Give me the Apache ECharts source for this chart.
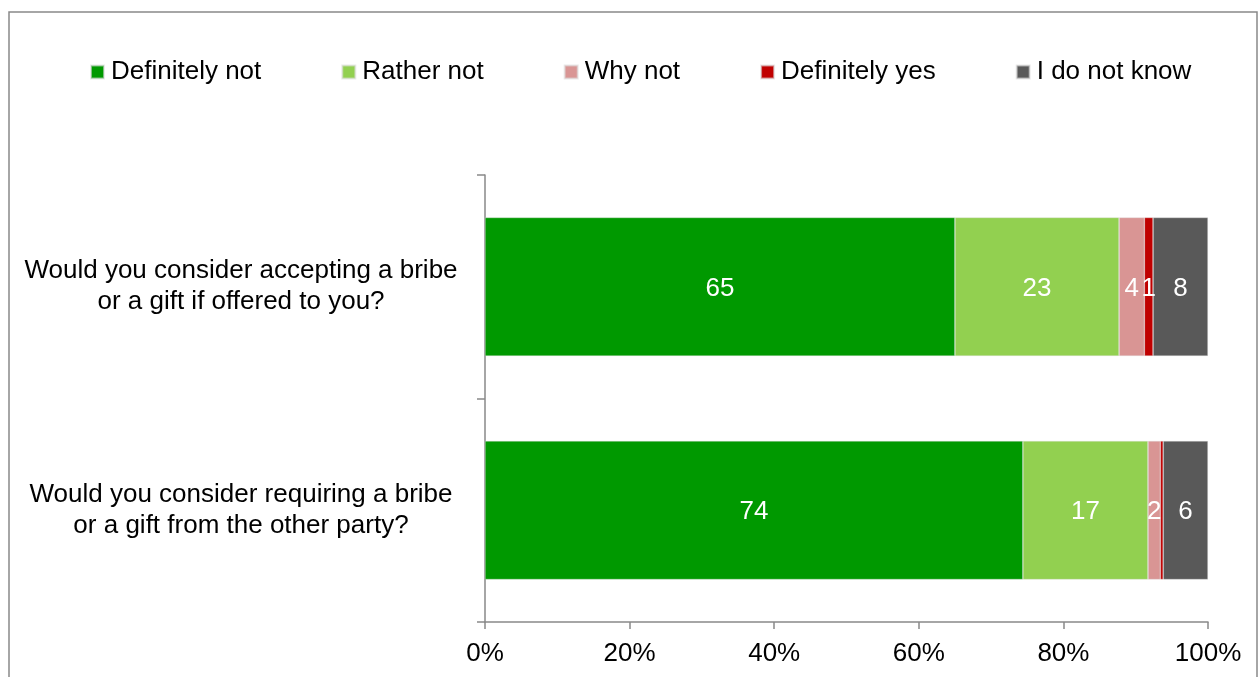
<!DOCTYPE html>
<html>
<head>
<meta charset="utf-8">
<title>Attitudes towards bribes and gifts</title>
<script src="https://cdn.jsdelivr.net/npm/echarts@6/dist/echarts.min.js"></script>
<style>
  html, body { margin: 0; padding: 0; background: #ffffff; }
  #chart { width: 1258px; height: 677px; }
</style>
</head>
<body>
<div id="chart"></div>
<script>
// Survey questions (rows, top to bottom)
const questions = [
  'Would you consider accepting a bribe\nor a gift if offered to you?',
  'Would you consider requiring a bribe\nor a gift from the other party?'
];

// Answer shares in percent, one value per question
const definitelyNot = [65.0, 74.4];
const ratherNot     = [22.7, 17.3];
const whyNot        = [3.5, 1.7];
const definitelyYes = [1.2, 0.4];
const doNotKnow     = [7.6, 6.2];

const answerNames  = ['Definitely not', 'Rather not', 'Why not', 'Definitely yes', 'I do not know'];
const answerValues = [definitelyNot, ratherNot, whyNot, definitelyYes, doNotKnow];
const answerColors = ['#009900', '#92D050', '#D99594', '#C00000', '#595959'];

// Percent axis ticks
const percentTicks = [0, 20, 40, 60, 80, 100];

const FONT = '"Liberation Sans", Arial, sans-serif';
const AXIS_GRAY = '#898989';

const chart = echarts.init(document.getElementById('chart'), null, { renderer: 'canvas' });

const series = answerNames.map((name, i) => ({
  name: name,
  type: 'bar',
  stack: 'total',
  barCategoryGap: '38%',
  data: answerValues[i],
  itemStyle: { color: answerColors[i], borderColor: 'rgba(220,220,220,0.6)', borderWidth: 0.6 },
  label: {
    show: true,
    position: 'inside',
    offset: [0, 2],
    color: '#ffffff',
    fontFamily: FONT,
    fontSize: 26,
    formatter: p => (p.value >= 0.5 ? String(Math.round(p.value)) : '')
  },
  emphasis: { disabled: true }
}));

chart.setOption({
  animation: false,
  backgroundColor: '#ffffff',
  textStyle: { fontFamily: FONT },
  graphic: [{
    type: 'rect',
    silent: true,
    shape: { x: 9, y: 12, width: 1248, height: 700 },
    style: { fill: 'none', stroke: AXIS_GRAY, lineWidth: 1.5 }
  }],
  legend: {
    left: 90,
    top: 58,
    padding: 0,
    itemGap: 80,
    itemWidth: 13,
    itemHeight: 13,
    icon: 'rect',
    selectedMode: false,
    textStyle: { fontFamily: FONT, fontSize: 26, color: '#000000', lineHeight: 28, padding: [0, 0, 0, 2] },
    data: answerNames
  },
  grid: { left: 485, right: 50, top: 175, bottom: 55, containLabel: false },
  xAxis: {
    type: 'value',
    min: percentTicks[0],
    max: percentTicks[percentTicks.length - 1],
    interval: percentTicks[1] - percentTicks[0],
    splitLine: { show: false },
    axisLine: { show: true, lineStyle: { color: AXIS_GRAY, width: 1.5 } },
    axisTick: { show: true, length: 7, lineStyle: { color: AXIS_GRAY, width: 1.5 } },
    axisLabel: {
      formatter: '{value}%',
      color: '#000000',
      fontFamily: FONT,
      fontSize: 26,
      margin: 19
    }
  },
  yAxis: {
    type: 'category',
    inverse: true,
    data: questions,
    axisLine: { show: true, lineStyle: { color: AXIS_GRAY, width: 1.5 } },
    axisTick: { show: true, length: 8, alignWithLabel: false, lineStyle: { color: AXIS_GRAY, width: 1.5 } },
    axisLabel: {
      color: '#000000',
      fontFamily: FONT,
      fontSize: 26,
      lineHeight: 31,
      align: 'center',
      padding: [6, 0, 0, 0],
      margin: 244
    }
  },
  series: series
});
</script>
</body>
</html>
